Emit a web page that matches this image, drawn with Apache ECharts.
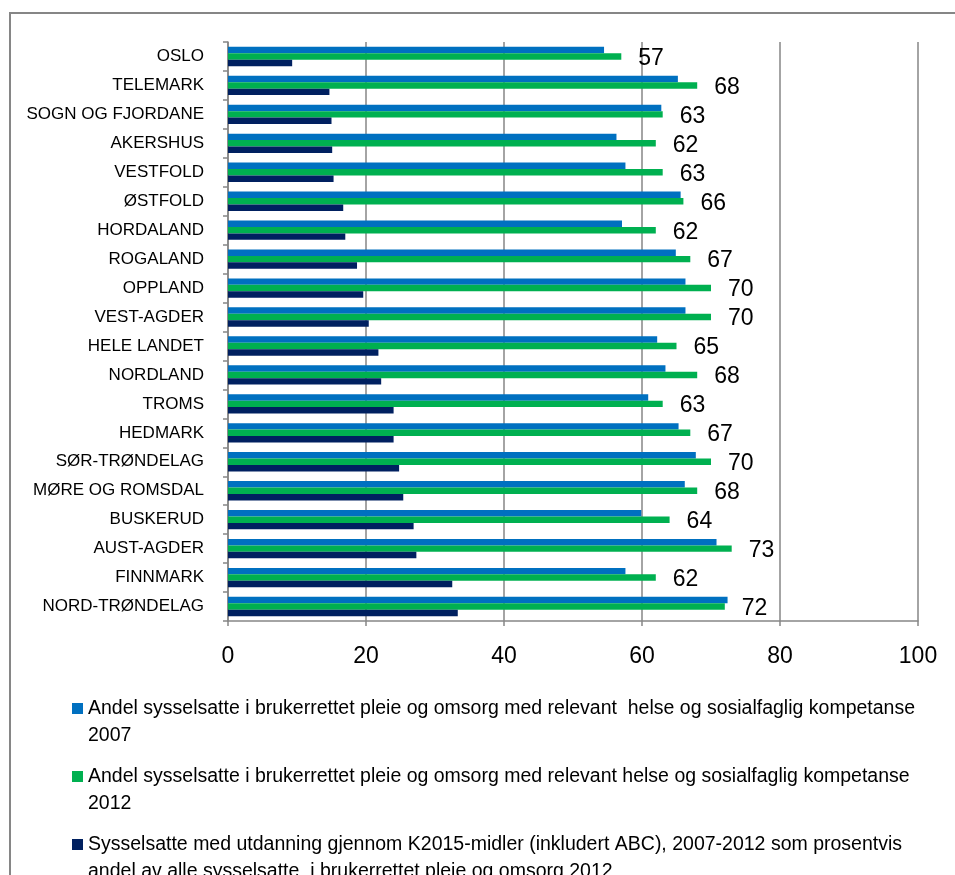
<!DOCTYPE html>
<html>
<head>
<meta charset="utf-8">
<script src="https://cdn.jsdelivr.net/npm/echarts@6/dist/echarts.min.js"></script>
<style>
  html, body { margin: 0; padding: 0; background: #fff; }
  #chart { width: 955px; height: 875px; }
</style>
</head>
<body>
<div id="chart"></div>
<script>
// Counties, top to bottom
const counties = [
  'OSLO', 'TELEMARK', 'SOGN OG FJORDANE', 'AKERSHUS', 'VESTFOLD', 'ØSTFOLD',
  'HORDALAND', 'ROGALAND', 'OPPLAND', 'VEST-AGDER', 'HELE LANDET', 'NORDLAND',
  'TROMS', 'HEDMARK', 'SØR-TRØNDELAG', 'MØRE OG ROMSDAL', 'BUSKERUD',
  'AUST-AGDER', 'FINNMARK', 'NORD-TRØNDELAG'
];

// Share with relevant competence, 2007 (%)
const share2007 = [
  54.5, 65.2, 62.8, 56.3, 57.6, 65.6, 57.1, 64.9, 66.3, 66.3,
  62.2, 63.4, 60.9, 65.3, 67.8, 66.2, 59.9, 70.8, 57.6, 72.4
];

// Share with relevant competence, 2012 (%)
const share2012 = [
  57, 68, 63, 62, 63, 66, 62, 67, 70, 70,
  65, 68, 63, 67, 70, 68, 64, 73, 62, 72
];

// Employees educated through K2015 funds, 2007-2012, as % of all employees 2012
const k2015Share = [
  9.3, 14.7, 15.0, 15.1, 15.3, 16.7, 17.0, 18.7, 19.6, 20.4,
  21.8, 22.2, 24.0, 24.0, 24.8, 25.4, 26.9, 27.3, 32.5, 33.3
];

const seriesNames = [
  'Andel sysselsatte i brukerrettet pleie og omsorg med relevant  helse og sosialfaglig kompetanse\n2007',
  'Andel sysselsatte i brukerrettet pleie og omsorg med relevant helse og sosialfaglig kompetanse\n2012',
  'Sysselsatte med utdanning gjennom K2015-midler (inkludert ABC), 2007-2012 som prosentvis\nandel av alle sysselsatte  i brukerrettet pleie og omsorg 2012'
];

const xTicks = [0, 20, 40, 60, 80, 100];

const FONT = 'Liberation Sans';
const AXIS_GREY = '#868686';

const chart = echarts.init(document.getElementById('chart'), null, { renderer: 'canvas' });

chart.setOption({
  animation: false,
  textStyle: { fontFamily: FONT, color: '#000' },
  graphic: [{
    type: 'rect',
    shape: { x: 10, y: 13, width: 980, height: 900 },
    style: { fill: 'none', stroke: AXIS_GREY, lineWidth: 2 },
    silent: true,
    z: -10
  }],
  grid: { left: 228, right: 37, top: 42, bottom: 254, containLabel: false },
  xAxis: {
    type: 'value',
    min: xTicks[0],
    max: xTicks[xTicks.length - 1],
    interval: xTicks[1] - xTicks[0],
    axisLine: { show: true, lineStyle: { color: AXIS_GREY, width: 1.5 } },
    axisTick: { show: true, length: 5, lineStyle: { color: AXIS_GREY, width: 1.5 } },
    splitLine: { show: true, lineStyle: { color: AXIS_GREY, width: 1.5 } },
    axisLabel: { fontSize: 23, color: '#000', margin: 24, fontFamily: FONT }
  },
  yAxis: {
    type: 'category',
    data: counties,
    inverse: true,
    axisLine: { show: true, lineStyle: { color: AXIS_GREY, width: 1.5 } },
    axisTick: { show: true, length: 5, lineStyle: { color: AXIS_GREY, width: 1.5 } },
    axisLabel: { fontSize: 17, color: '#000', margin: 24, fontFamily: FONT }
  },
  legend: {
    orient: 'vertical',
    left: 72,
    top: 668,
    height: 400,
    padding: 0,
    icon: 'rect',
    itemWidth: 11,
    itemHeight: 11,
    itemGap: -13,
    selectedMode: false,
    // a leading blank line keeps the marker level with the first text line
    formatter: name => '\n' + name,
    textStyle: {
      fontSize: 19.5,
      lineHeight: 27,
      color: '#000',
      fontFamily: FONT
    },
    data: seriesNames
  },
  series: [
    {
      name: seriesNames[0],
      type: 'bar',
      data: share2007,
      itemStyle: { color: '#0070C0' },
      barGap: '0%',
      barCategoryGap: '33%'
    },
    {
      name: seriesNames[1],
      type: 'bar',
      data: share2012,
      itemStyle: { color: '#00B050' },
      barGap: '0%',
      barCategoryGap: '33%',
      label: {
        show: true,
        position: 'right',
        distance: 17,
        offset: [0, 2],
        fontSize: 23,
        color: '#000',
        fontFamily: FONT
      }
    },
    {
      name: seriesNames[2],
      type: 'bar',
      data: k2015Share,
      itemStyle: { color: '#002060' },
      barGap: '0%',
      barCategoryGap: '33%'
    }
  ]
});
</script>
</body>
</html>
